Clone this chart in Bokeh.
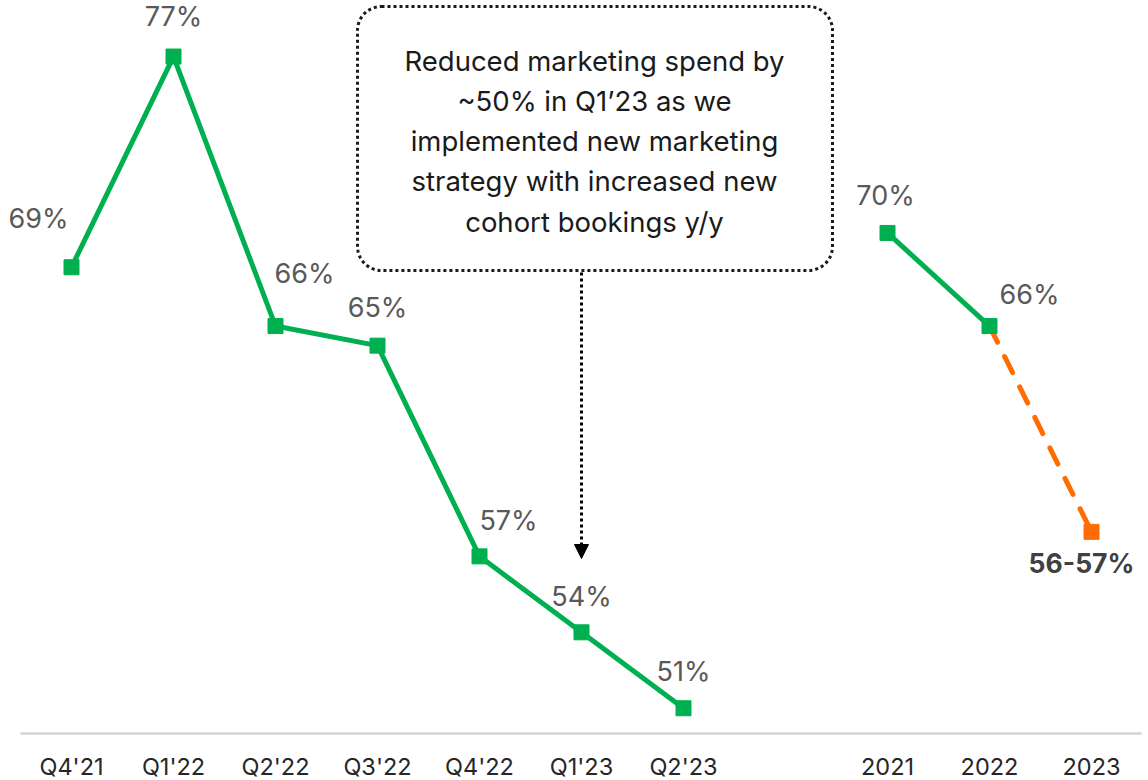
from bokeh.plotting import figure
from bokeh.models import ColumnDataSource, Range1d, BoxAnnotation, Arrow, NormalHead
from bokeh.core.properties import value
from bokeh.embed import file_html
from bokeh.resources import INLINE

# ---- data ----
quarters = ["Q4'21", "Q1'22", "Q2'22", "Q3'22", "Q4'22", "Q1'23", "Q2'23"]
quarter_values = [68.5, 77.1, 66.1, 65.3, 56.7, 53.6, 50.5]
quarter_labels = ["69%", "77%", "66%", "65%", "57%", "54%", "51%"]

years = ["2021", "2022", "2023"]
year_values = [69.9, 66.1, 57.7]
year_labels = ["70%", "66%", "56-57%"]

note_lines = ["Reduced marketing spend by", "~50% in Q1\u201923 as we",
              "implemented new marketing", "strategy with increased new",
              "cohort bookings y/y"]

FONT = "Inter"
GREEN = "#00B050"
ORANGE = "#FF6D00"

qx = list(range(len(quarters)))
yx = [len(quarters) + 1 + i for i in range(len(years))]

px_per = 24.5
y0 = 1945.0
H, W = 780, 1148
p = figure(width=W, height=H, output_backend="svg", toolbar_location=None,
           x_range=Range1d(-71 / 102, (W - 71) / 102),
           y_range=Range1d((y0 - H) / px_per, y0 / px_per),
           min_border=0, min_border_left=0, min_border_right=0,
           min_border_top=0, min_border_bottom=0)
p.axis.visible = False
p.grid.visible = False
p.outline_line_color = None
p.background_fill_color = "white"
p.border_fill_color = "white"

def ypx(v):
    return (y0 - v) / px_per

# annotation box (underlay so text sits on top)
box = BoxAnnotation(left=(357 - 71) / 102, right=(832 - 71) / 102,
                    top=ypx(6), bottom=ypx(270),
                    fill_color="white", fill_alpha=1.0,
                    line_color="#1a1a1a", line_alpha=1.0, line_width=3, line_dash="3 3",
                    border_radius=24, level="underlay")
p.add_layout(box)

# baseline
base_v = ypx(733)
p.segment(x0=[-51 / 102], x1=[(1141 - 71) / 102], y0=[base_v], y1=[base_v],
          line_color="#d4d4d4", line_width=2.5)

# tick labels
tick_v = ypx(766)
p.text(x=qx + yx, y=[tick_v] * (len(qx) + len(yx)), text=quarters + years,
       text_font=value(FONT), text_font_size="23.5px", text_color="#262626",
       text_align="center", text_baseline="middle")

# quarterly line
qsrc = ColumnDataSource(dict(x=qx, y=quarter_values, label=quarter_labels,
                             dx=[-33, 0, 29, 0, 29, 0, 0],
                             dy=[-49, -40, -53, -38, -36, -36, -37]))
p.line("x", "y", source=qsrc, line_color=GREEN, line_width=5)
p.scatter("x", "y", source=qsrc, marker="square", size=15, fill_color=GREEN, line_color=GREEN)
p.text("x", "y", text="label", source=qsrc, x_offset="dx", y_offset="dy",
       text_font=value(FONT), text_font_size="27px", text_color="#595959",
       text_align="center", text_baseline="middle")

# annual line
p.line(yx[1:], year_values[1:], line_color=ORANGE, line_width=5, line_dash="18 16", line_cap="round")
p.line(yx[:2], year_values[:2], line_color=GREEN, line_width=5)
p.scatter([yx[2]], [year_values[2]], marker="square", size=15, fill_color=ORANGE, line_color=ORANGE)
p.scatter(yx[:2], year_values[:2], marker="square", size=15, fill_color=GREEN, line_color=GREEN)
ysrc = ColumnDataSource(dict(x=yx[:2], y=year_values[:2], label=year_labels[:2],
                             dx=[-2, 40], dy=[-37, -32]))
p.text("x", "y", text="label", source=ysrc, x_offset="dx", y_offset="dy",
       text_font=value(FONT), text_font_size="27px", text_color="#595959",
       text_align="center", text_baseline="middle")
p.text([yx[2]], [year_values[2]], text=[year_labels[2]], x_offset=-10, y_offset=31,
       text_font=value(FONT), text_font_size="26.5px", text_font_style="bold",
       text_color="#404040", text_align="center", text_baseline="middle")

# note text
note_x = (594 - 71) / 102
note_y = [ypx(60 + 40.3 * i) for i in range(len(note_lines))]
p.text([note_x] * len(note_lines), note_y, text=note_lines,
       text_font=value(FONT), text_font_size="27.5px", text_color="#1a1a1a",
       text_align="center", text_baseline="middle")

# arrow
arrow = Arrow(x_start=qx[5], y_start=ypx(272), x_end=qx[5], y_end=ypx(558),
              line_color="black", line_width=3, line_dash="3 3",
              end=NormalHead(size=14, fill_color="black", line_color="black", line_width=1))
p.add_layout(arrow)

open("out.html", "w").write(file_html(p, INLINE))
